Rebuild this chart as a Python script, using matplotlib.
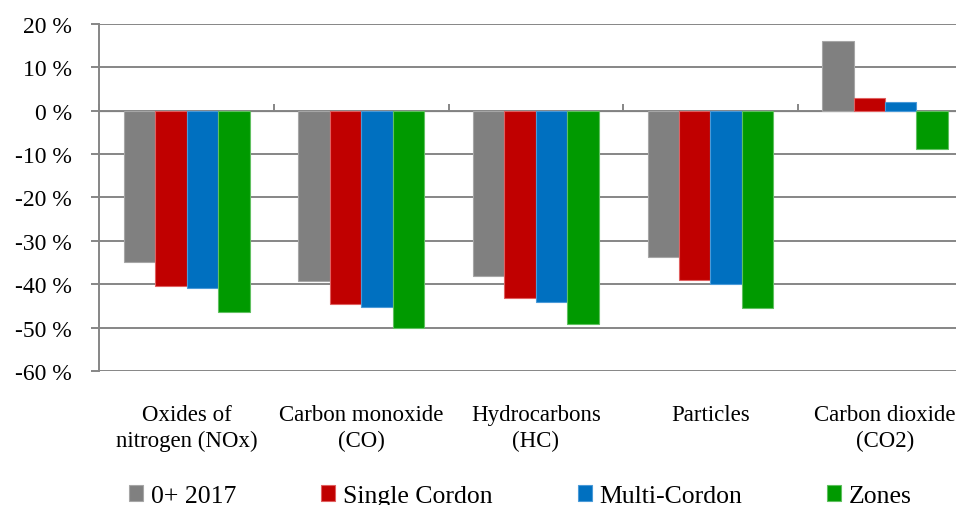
import numpy as np
import matplotlib
matplotlib.use("Agg")
import matplotlib.pyplot as plt

plt.rcParams['font.family'] = ['Liberation Serif', 'DejaVu Serif']

categories = ["Oxides of\nnitrogen (NOx)", "Carbon monoxide\n(CO)", "Hydrocarbons\n(HC)",
              "Particles", "Carbon dioxide\n(CO2)"]
series = ["0+ 2017", "Single Cordon", "Multi-Cordon", "Zones"]
zero_2017 = [-35.0, -39.3, -38.2, -33.8, 16.1]
single_cordon = [-40.5, -44.5, -43.3, -39.1, 2.8]
multi_cordon = [-41.0, -45.2, -44.1, -40.0, 2.0]
zones = [-46.4, -50.1, -49.2, -45.5, -8.8]
colors = ["#808080", "#C00000", "#0070C0", "#009A00"]
edges = ["#A6A6A6", "#E06060", "#4A9AD8", "#60C060"]
yticks = [-60, -50, -40, -30, -20, -10, 0, 10, 20]

values = [zero_2017, single_cordon, multi_cordon, zones]

fig = plt.figure(figsize=(9.56, 5.06), dpi=100)
ax = fig.add_axes([0.1040, 0.265, 0.913, 0.686])

x = np.arange(len(categories))
w = 0.18
for i, (name, vals) in enumerate(zip(series, values)):
    ax.bar(x + (i - 1.5) * w, vals, w, color=colors[i], edgecolor=edges[i],
           linewidth=0.8, label=name, zorder=3)

ax.set_xlim(-0.5, len(categories) - 0.5)
ax.set_ylim(-60, 20)
ax.set_yticks(yticks)
ax.set_yticklabels([f"{v} %" for v in yticks])
ax.yaxis.grid(True, color="#868686", linewidth=1.4, zorder=0)
ax.set_axisbelow(True)

for s in ["top", "right", "bottom"]:
    ax.spines[s].set_visible(False)
ax.spines["left"].set_color("#868686")
ax.spines["left"].set_linewidth(1.4)
ax.tick_params(axis="y", length=6, width=1.4, color="#868686", pad=14,
               labelsize=17, labelcolor="black")

ax.set_xticks(x)
ax.set_xticklabels(categories, fontsize=16.5, linespacing=1.32, va="top")
ax.tick_params(axis="x", length=0, pad=23.5)

# category axis crossing at zero with tick marks between categories
sec = ax.secondary_xaxis(0.75)
sec.set_xticks(np.arange(len(categories) + 1) - 0.5)
sec.set_xticklabels([])
sec.tick_params(axis="x", direction="out", length=5, width=1.4, color="#868686")
sec.spines["bottom"].set_visible(False)

fig.legend(loc="center", bbox_to_anchor=(0.5445, 0.018), ncol=4, frameon=False,
           fontsize=18.5, handlelength=0.55, handleheight=0.55, handletextpad=0.3,
           columnspacing=3.3, borderpad=0)

fig.savefig("out.png", dpi=100)
